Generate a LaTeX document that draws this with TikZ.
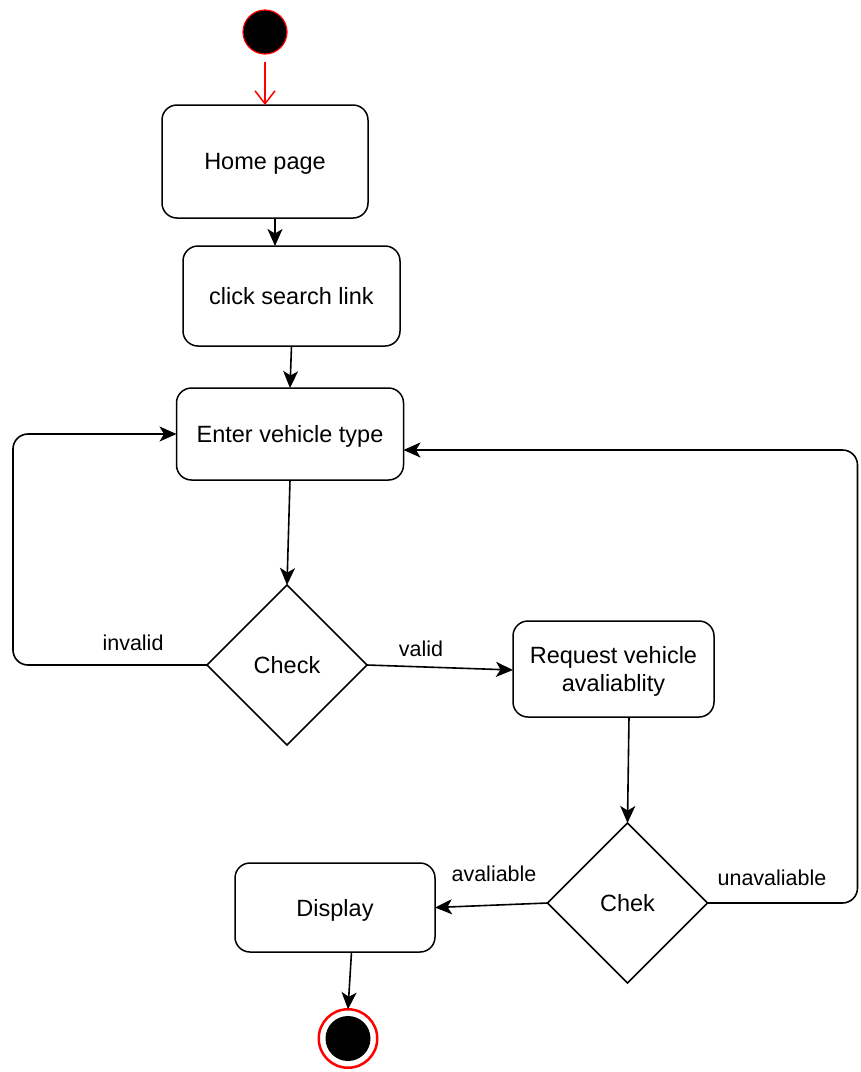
\documentclass[tikz,border=0pt]{standalone}
\usepackage{fontspec}
\setmainfont{Liberation Sans}
\usetikzlibrary{arrows.meta,shapes.geometric,calc}

\tikzset{
  act/.style={draw=black, line width=1.5pt, rounded corners=15pt, fill=white,
    font=\fontsize{23.5}{28}\selectfont, align=center, inner sep=0pt, outer sep=0pt,
    text depth=0pt},
  decision/.style={diamond, draw=black, line width=1.5pt, fill=white, aspect=1,
    minimum width=160pt, minimum height=160pt, inner sep=0pt, outer sep=0pt,
    font=\fontsize{23.5}{28}\selectfont},
  flow/.style={draw=black, line width=1.6pt, rounded corners=15pt,
    -{Stealth[length=17pt,width=15pt,inset=4.5pt]}},
  guard/.style={font=\fontsize{21.5}{26}\selectfont, inner sep=0pt},
  initial/.style={circle, fill=black, draw=red, line width=1.2pt,
    minimum size=44pt, inner sep=0pt},
  final/.style={circle, draw=red, line width=2.5pt, fill=white,
    minimum size=58.5pt, inner sep=0pt, outer sep=0pt,
    path picture={\fill[black] (path picture bounding box.center) circle (22.5pt);}}
}

\begin{document}
\begin{tikzpicture}[x=1pt,y=-1pt]
\useasboundingbox (0,0) rectangle (861,1072);

% states
\node[initial] (start) at (265,32) {};
\node[act, minimum width=206pt, minimum height=113pt] (home) at (265,161.5) {Home page};
\node[act, minimum width=217pt, minimum height=100pt] (click) at (291.5,296) {click search link};
\node[act, minimum width=227pt, minimum height=92pt] (enter) at (290,434) {Enter vehicle type};
\node[decision] (check) at (287,665) {Check};
\node[act, minimum width=201pt, minimum height=96pt] (req) at (613.5,669) {Request vehicle\\avaliablity};
\node[decision] (chek) at (627.5,903) {Chek};
\node[act, minimum width=200pt, minimum height=89pt] (disp) at (335,907.5) {Display};
\node[final] (end) at (348,1038.5) {};

% transitions
\draw[red, line width=1.5pt, shorten <=7pt, -{Straight Barb[length=13pt,width=20pt]}] (start) -- (home.north);
\draw[flow] ($(home.south)+(10,0)$) -- ($(click.north)+(-16.5,0)$);
\draw[flow] (click.south) -- (enter.north);
\draw[flow] (enter.south) -- (check.north);
\draw[flow] (check.east) -- ($(req.west)+(0,1)$);
\draw[flow] (check.west) -- ++(-194,0) |- (enter.west);
\draw[flow] ($(req.south)+(15.5,0)$) -- (chek.north);
\draw[flow] (chek.west) -- (disp.east);
\draw[flow] (chek.east) -- ++(150,0) |- ($(enter.east)+(0,16)$);
\draw[flow] ($(disp.south)+(16.5,0)$) -- (end.north);

% guards
\node[guard] (lvalid) at (421,649) {valid};
\node[guard] (linvalid) at (133,643) {invalid};
\node[guard] (lavail) at (494,874) {avaliable};
\node[guard] (lunavail) at (772,878) {unavaliable};
\end{tikzpicture}
\end{document}
